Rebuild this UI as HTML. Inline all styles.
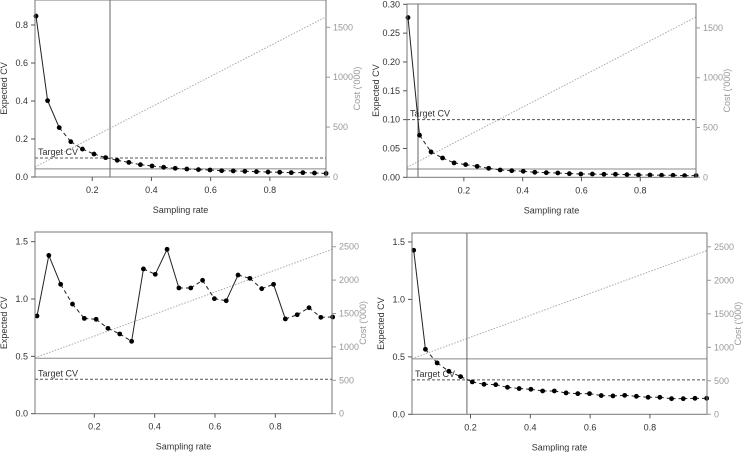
<!DOCTYPE html>
<html><head><meta charset="utf-8"><style>
html,body{margin:0;padding:0;background:#fff;}
svg{display:block;font-family:"Liberation Sans",sans-serif;}
</style></head><body>
<svg id="chart" width="745" height="452" viewBox="0 0 745 452"></svg>
<script>
const sampleRates = Array.from({length:26},(_,i)=>0.01+i*0.0392);
const cvPanel1 = [0.847,0.402,0.26,0.186,0.147,0.121,0.102,0.088,0.077,0.065,0.058,0.051,0.046,0.042,0.039,0.037,0.033,0.032,0.030,0.028,0.026,0.025,0.023,0.023,0.021,0.019];
const cvPanel2 = [0.277,0.073,0.044,0.0335,0.025,0.022,0.019,0.0156,0.0127,0.0115,0.0104,0.0087,0.008,0.0075,0.0063,0.0057,0.0057,0.0052,0.0052,0.0046,0.004,0.004,0.0035,0.0035,0.0029,0.0029];
const cvPanel3 = [0.852,1.38,1.128,0.956,0.831,0.823,0.744,0.695,0.631,1.262,1.215,1.433,1.096,1.096,1.163,1.003,0.985,1.209,1.18,1.09,1.128,0.826,0.863,0.924,0.84,0.843];
const cvPanel4 = [1.428,0.566,0.447,0.374,0.328,0.282,0.261,0.258,0.235,0.224,0.218,0.203,0.203,0.186,0.18,0.18,0.163,0.16,0.165,0.157,0.148,0.148,0.136,0.136,0.139,0.139];
const costStart = [100,100,838,830];
const costEnd = [1605,1610,2460,2445];
const targetCV = [0.1,0.1,0.3,0.3];
const refLevel = [0.043,0.0144,0.483,0.482];
const chosenRate = [0.26,0.044,null,0.188];
const yTicks = [[0,0.2,0.4,0.6,0.8],[0,0.05,0.1,0.15,0.2,0.25,0.3],[0,0.5,1.0,1.5],[0,0.5,1.0,1.5]];
const yTickLabels = [["0.0","0.2","0.4","0.6","0.8"],["0.00","0.05","0.10","0.15","0.20","0.25","0.30"],["0.0","0.5","1.0","1.5"],["0.0","0.5","1.0","1.5"]];
const costTicks = [[0,500,1000,1500],[0,500,1000,1500],[0,500,1000,1500,2000,2500],[0,500,1000,1500,2000,2500]];
const xTicks = [0.2,0.4,0.6,0.8];
const xTickLabels = ["0.2","0.4","0.6","0.8"];
const allCV = [cvPanel1,cvPanel2,cvPanel3,cvPanel4];

// layout (not data)
const panels = [
 {L:35,R:326,T:0,B:177,x0:36,xs:296,yPer:190,cPer:0.0998},
 {L:407,R:696,T:4,B:177.3,x0:408,xs:294,yPer:576.7,cPer:0.0996},
 {L:35,R:332,T:232,B:413.7,x0:37,xs:301.7,yPer:114.7,cPer:0.0668},
 {L:412,R:707,T:233,B:414.3,x0:413.7,xs:299,yPer:114.9,cPer:0.0670}
];
const svg=document.getElementById('chart');
const NS='http://www.w3.org/2000/svg';
function mk(tag,attrs,parent){const e=document.createElementNS(NS,tag);for(const k in attrs)e.setAttribute(k,attrs[k]);(parent||svg).appendChild(e);return e;}

panels.forEach((p,pi)=>{
 const g=mk('g',{});
 
 
 const X=v=>p.x0+(v-0.01)*p.xs;
 const Y=v=>p.B-v*p.yPer;
 const C=v=>p.B-v*p.cPer;
 // cost line
 const cl=mk('line',{x1:p.L,y1:C(costStart[pi]),x2:p.R,y2:C(costEnd[pi]),stroke:'#aaa','stroke-width':1,'stroke-dasharray':'1.5,1.5'},g);
 
 
 // ref solid horizontal
 const rl=mk('line',{x1:p.L,y1:Y(refLevel[pi]),x2:p.R,y2:Y(refLevel[pi]),stroke:'#888','stroke-width':1},g);
 
 
 // target
 const tl=mk('line',{x1:p.L,y1:Y(targetCV[pi]),x2:p.R,y2:Y(targetCV[pi]),stroke:'#555','stroke-width':1,'stroke-dasharray':'3,2'},g);
 
 
 const tt=mk('text',{x:p.L+3,y:Y(targetCV[pi])-3,'font-size':9,fill:'#333'},g);
 tt.textContent='Target CV';
 
 
 if(chosenRate[pi]!==null){
  const vl=mk('line',{x1:X(chosenRate[pi]),y1:p.T,x2:X(chosenRate[pi]),y2:p.B,stroke:'#666','stroke-width':1},g);
  
  
 }
 // series
 const d=allCV[pi];
 for(let i=0;i<d.length-1;i++){
  const x1=X(sampleRates[i]),y1=Y(d[i]),x2=X(sampleRates[i+1]),y2=Y(d[i+1]);
  const len=Math.hypot(x2-x1,y2-y1);
  const s=mk('line',{x1,y1,x2,y2,stroke:'#222','stroke-width':1,'stroke-dasharray':len>25?'none':'4,3'},g);
  
  
 }
 d.forEach((v,i)=>{
  const c=mk('circle',{cx:X(sampleRates[i]),cy:Y(v),r:2.4,fill:'#000'},g);
  
  
 });
 // box
 const bx=mk('rect',{x:p.L,y:p.T,width:p.R-p.L,height:p.B-p.T,fill:'none',stroke:'#777','stroke-width':1},g);
 
 
 // left ticks
 yTicks[pi].forEach((t,i)=>{
  const y=Y(t);
  mk('line',{x1:p.L-4,y1:y,x2:p.L,y2:y,stroke:'#555'},g);
  const tx=mk('text',{x:p.L-7,y:y+3,'font-size':9,fill:'#333','text-anchor':'end'},g);
  tx.textContent=yTickLabels[pi][i];
  
  
 });
 costTicks[pi].forEach(t=>{
  const y=C(t);
  mk('line',{x1:p.R,y1:y,x2:p.R+4,y2:y,stroke:'#999'},g);
  const tx=mk('text',{x:p.R+7,y:y+3,'font-size':9,fill:'#999'},g);
  tx.textContent=String(t);
  
  
 });
 xTicks.forEach((t,i)=>{
  const x=X(t);
  mk('line',{x1:x,y1:p.B,x2:x,y2:p.B+4,stroke:'#555'},g);
  const tx=mk('text',{x:x,y:p.B+16,'font-size':9,fill:'#333','text-anchor':'middle'},g);
  tx.textContent=xTickLabels[i];
  
  
 });
 const xl=mk('text',{x:(p.L+p.R)/2,y:p.B+36,'font-size':9,fill:'#333','text-anchor':'middle'},g);
 xl.textContent='Sampling rate';
 
 
 const ym=(p.T+p.B)/2, ylx=p.L-28;
 const yl=mk('text',{x:ylx,y:ym,'font-size':9,fill:'#333','text-anchor':'middle',transform:`rotate(-90 ${ylx} ${ym})`},g);
 yl.textContent='Expected CV';
 
 
 const rlx=p.R+34;
 const cr=mk('text',{x:rlx,y:ym,'font-size':9,fill:'#999','text-anchor':'middle',transform:`rotate(-90 ${rlx} ${ym})`},g);
 cr.textContent="Cost ('000)";
 
 
});
</script>
</body></html>
